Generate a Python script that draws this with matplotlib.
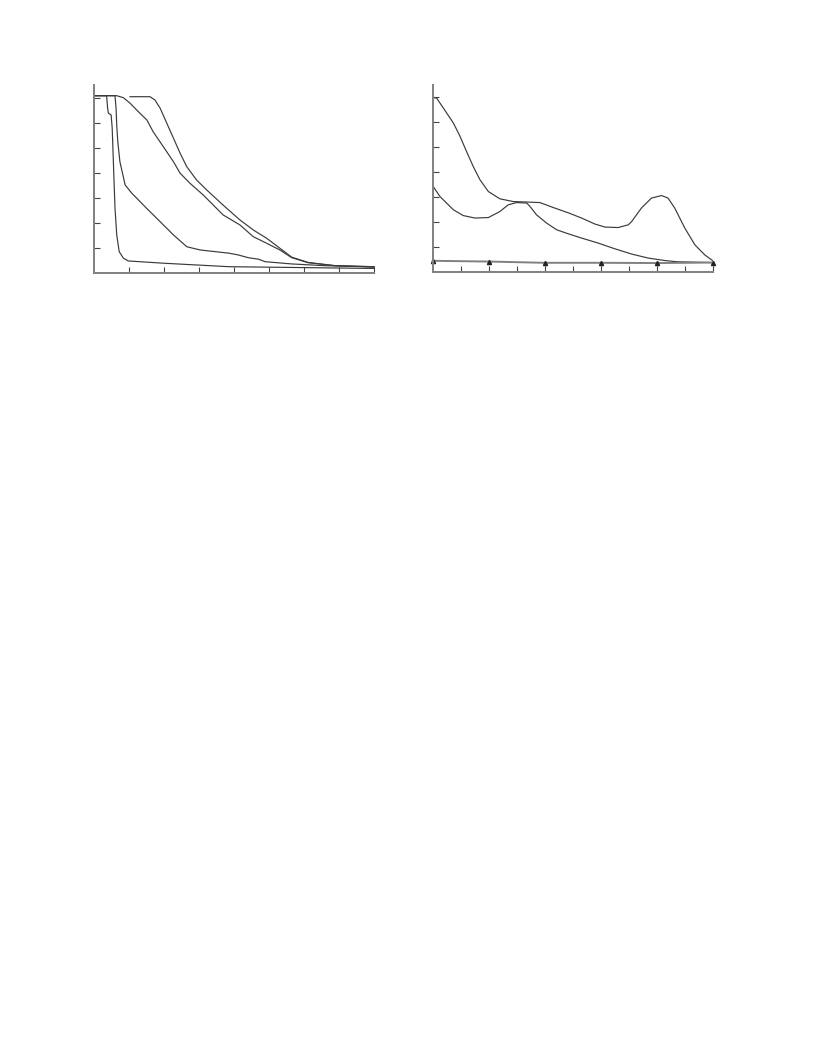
import matplotlib
matplotlib.use("Agg")
import matplotlib.pyplot as plt

# ---- Left panel data ----
a_x = [0, 0.36, 0.39, 0.41, 0.49, 0.52, 0.55, 0.60, 0.65, 0.72, 0.84, 0.98, 1.98, 3.86, 8.0]
a_y = [7.08, 7.08, 6.58, 6.38, 6.31, 5.78, 4.58, 2.58, 1.51, 0.84, 0.58, 0.47, 0.38, 0.24, 0.17]

b_x = [0, 0.60, 0.63, 0.65, 0.68, 0.74, 0.89, 1.08, 1.22, 1.50, 1.89, 2.27, 2.65, 3.03, 3.86,
       4.12, 4.41, 4.70, 4.89, 5.65, 6.60, 8.0]
b_y = [7.08, 7.08, 6.58, 5.90, 5.24, 4.44, 3.51, 3.18, 2.98, 2.58, 2.04, 1.51, 1.04, 0.91, 0.78,
       0.71, 0.60, 0.54, 0.44, 0.35, 0.28, 0.24]

c_x = [0, 0.65, 0.84, 1.03, 1.31, 1.51, 1.69, 1.98, 2.27, 2.46, 2.74, 3.12, 3.69, 4.17, 4.55,
       4.93, 5.31, 5.65, 6.12, 6.89, 8.0]
c_y = [7.08, 7.08, 7.00, 6.78, 6.38, 6.11, 5.64, 5.04, 4.44, 3.98, 3.58, 3.11, 2.31, 1.91, 1.44,
       1.18, 0.91, 0.60, 0.40, 0.28, 0.22]

d_x = [1.03, 1.60, 1.74, 1.89, 2.08, 2.27, 2.46, 2.65, 2.93, 3.22, 3.74, 4.17, 4.55, 4.93, 5.31,
       5.65, 6.12, 6.89, 8.0]
d_y = [7.04, 7.04, 6.91, 6.58, 5.98, 5.38, 4.78, 4.24, 3.71, 3.31, 2.64, 2.11, 1.71, 1.38, 0.98,
       0.62, 0.41, 0.28, 0.24]

# ---- Right panel data ----
e_x = [0, 0.14, 0.38, 0.74, 0.98, 1.21, 1.45, 1.69, 1.99, 2.40, 2.88, 3.36, 3.83, 4.31, 4.87,
       5.32, 5.80, 6.15, 6.63, 6.99, 7.11, 7.46, 7.82, 8.18, 8.41, 8.65, 9.01, 9.37, 9.72, 10.0]
e_y = [6.99, 6.97, 6.57, 5.97, 5.43, 4.83, 4.23, 3.70, 3.23, 2.94, 2.83, 2.81, 2.79, 2.59, 2.37,
       2.17, 1.93, 1.81, 1.79, 1.90, 2.03, 2.57, 2.97, 3.07, 2.97, 2.57, 1.77, 1.10, 0.70, 0.47]

f_x = [0, 0.26, 0.74, 1.09, 1.51, 1.99, 2.40, 2.70, 3.00, 3.36, 3.48, 3.71, 4.07, 4.43, 4.87,
       5.32, 5.91, 6.51, 7.11, 7.70, 8.30, 8.75, 10.0]
f_y = [3.46, 3.03, 2.50, 2.27, 2.17, 2.19, 2.43, 2.70, 2.79, 2.77, 2.63, 2.30, 1.97, 1.70, 1.53,
       1.37, 1.17, 0.94, 0.73, 0.57, 0.47, 0.42, 0.39]

t_x = [0, 2, 4, 6, 8, 10]
t_y = [0.46, 0.43, 0.38, 0.38, 0.37, 0.39]

line_color = "#3a3a3a"
axis_color = "#808080"
lw = 0.85

fig = plt.figure(figsize=(8.16, 10.56), dpi=100)
ax1 = fig.add_axes([94/816, 1 - 272.7/1056, 280/816, 187.5/1056])
ax2 = fig.add_axes([432.7/816, 1 - 272.3/1056, 279.8/816, 187.5/1056])

for ax, xmax in ((ax1, 8), (ax2, 10)):
    ax.set_xlim(0, xmax)
    ax.set_ylim(0, 7.5)
    ax.set_xticks(range(1, xmax + 1))
    ax.set_yticks(range(1, 8))
    ax.set_xticklabels([])
    ax.set_yticklabels([])
    ax.tick_params(direction="in", length=4, width=0.8, color="#444444")
    for s in ("top", "right"):
        ax.spines[s].set_visible(False)
    for s in ("left", "bottom"):
        ax.spines[s].set_color(axis_color)
        ax.spines[s].set_linewidth(1.4)

for xs, ys in ((a_x, a_y), (b_x, b_y), (c_x, c_y), (d_x, d_y)):
    ax1.plot(xs, ys, color=line_color, lw=lw, clip_on=False, solid_joinstyle="round")

for xs, ys in ((e_x, e_y), (f_x, f_y)):
    ax2.plot(xs, ys, color=line_color, lw=lw, clip_on=False, solid_joinstyle="round")
ax2.plot(t_x, t_y, color=axis_color, lw=1.4, marker="^", markersize=3,
         markerfacecolor="#222222", markeredgecolor="#222222", clip_on=False)

fig.savefig("out.png", dpi=100)
